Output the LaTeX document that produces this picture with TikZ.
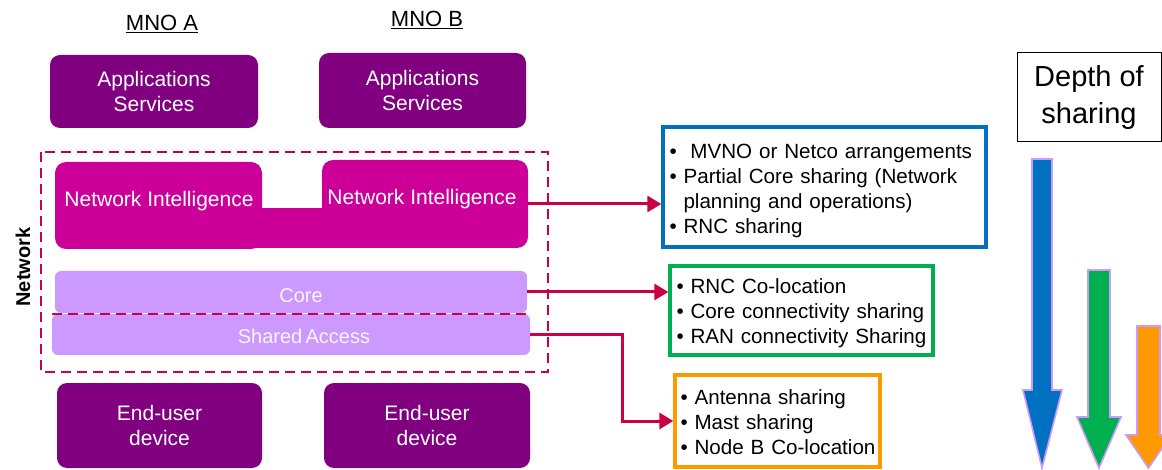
\documentclass[tikz,border=0pt]{standalone}
\usepackage{fontspec}
\setmainfont{Liberation Sans}
\usetikzlibrary{arrows.meta}
\definecolor{appcol}{RGB}{128,0,128}
\definecolor{nicol}{RGB}{204,0,153}
\definecolor{lav}{RGB}{204,153,255}
\definecolor{crim}{RGB}{204,0,68}
\definecolor{bluecol}{RGB}{0,112,192}
\definecolor{greencol}{RGB}{0,176,80}
\definecolor{orangecol}{RGB}{255,153,0}
\definecolor{lavtext}{RGB}{250,245,255}
\tikzset{
  purplebox/.style={fill=appcol, draw=none, rounded corners=10pt, text=white, align=center,
    font=\fontsize{21}{25}\selectfont, inner sep=0pt},
  nibox/.style={fill=nicol, draw=none, rounded corners=11pt, inner sep=0pt},
  nitext/.style={text=white, font=\fontsize{21}{25}\selectfont, inner sep=0pt},
  layerbar/.style={fill=lav, draw=none, rounded corners=6pt, inner sep=0pt},
  layertext/.style={text=lavtext, font=\fontsize{20}{24}\selectfont, inner sep=0pt},
  listbox/.style={draw, line width=3.4pt, fill=white, inner sep=0pt},
  listtext/.style={align=left, inner sep=0pt, font=\fontsize{20.6}{25}\selectfont},
  conn/.style={draw=crim, line width=3pt, -{Triangle[length=14pt,width=16pt]}},
  netdash/.style={crim, line width=2.8pt, dash pattern=on 10pt off 6pt},
  depthsym/.style={draw=lav, line width=1.6pt},
  mno/.style={font=\fontsize{22}{26}\selectfont, inner sep=0pt},
}
\begin{document}
\begin{tikzpicture}[x=1pt,y=-1pt]
\useasboundingbox (0,0) rectangle (1162,470);
% MNO labels
\node[mno] (mnoA) at (162,24) {\underline{MNO A}};
\node[mno] (mnoB) at (427,20) {\underline{MNO B}};
% Application boxes
\node[purplebox, minimum width=208pt, minimum height=73pt] (appA) at (154,91.5) {Applications\\Services};
\node[purplebox, minimum width=207pt, minimum height=75pt] (appB) at (422.5,90.5) {Applications\\Services};
% Network intelligence
\node[nibox, minimum width=207pt, minimum height=87pt] (niA) at (158.5,205.5) {};
\node[nibox, minimum width=206pt, minimum height=88pt] (niB) at (425,204) {};
\fill[nicol] (250,208) rectangle (335,248.5);
\node[nitext] (niAt) at (159,201) {Network Intelligence};
\node[nitext] (niBt) at (422,199) {Network Intelligence};
% Core and shared access
\node[layerbar, minimum width=472pt, minimum height=42pt] (core) at (291,292) {};
\node[layerbar, minimum width=478pt, minimum height=41pt] (shared) at (291,334.5) {};
\node[layertext] (coret) at (301,296) {Core};
\node[layertext] (sharedt) at (304,336) {Shared\,Access};
% dashed network boundary
\draw[netdash] (41,152) rectangle (548,372);
\draw[netdash] (52,314) -- (527,314);
\node[rotate=90, font=\bfseries\fontsize{20}{24}\selectfont, inner sep=0pt] (netlbl) at (23,267) {Network};
% End-user devices
\node[purplebox, minimum width=205pt, minimum height=85pt] (endA) at (159.5,425.5) {End-user\\device};
\node[purplebox, minimum width=206pt, minimum height=85pt] (endB) at (427,425.5) {End-user\\device};
% List boxes
\node[listbox, draw=bluecol, minimum width=323pt, minimum height=120pt] (blue) at (824.5,187) {};
\node[listtext, text width=340pt, anchor=west] (blueT) at ([xshift=8pt,yshift=-4pt]blue.west)
  {\textbullet\ \ MVNO or Netco arrangements\\
   \textbullet\ Partial Core sharing (Network\\
   \hspace*{14pt}planning and operations)\\
   \textbullet\ RNC sharing};
\node[listbox, draw=greencol, minimum width=263pt, minimum height=89pt] (green) at (801.5,310.5) {};
\node[listtext, text width=300pt, anchor=west] (greenT) at ([xshift=8pt,yshift=-3pt]green.west)
  {\textbullet\ RNC Co-location\\
   \textbullet\ Core connectivity sharing\\
   \textbullet\ RAN connectivity Sharing};
\node[listbox, draw=orangecol, minimum width=205pt, minimum height=92pt] (orange) at (777.5,421) {};
\node[listtext, text width=260pt, anchor=west] (orangeT) at ([xshift=7pt,yshift=-1pt]orange.west)
  {\textbullet\ Antenna sharing\\
   \textbullet\ Mast sharing\\
   \textbullet\ Node B Co-location};
% connectors
\draw[conn] (niB.east) -- (niB.east -| blue.west);
\draw[conn] (core.east) -- (core.east -| green.west);
\draw[conn] (shared.east) -- ++(92,0) |- (orange.west);
% Depth of sharing
\node[draw=black, line width=1pt, minimum width=144pt, minimum height=89pt, align=center,
  font=\fontsize{29}{37}\selectfont, inner sep=0pt] (depth) at (1089,97.5) {Depth of\\sharing};
\filldraw[depthsym, fill=bluecol] (1032,159) -- (1052,159) -- (1052,390) -- (1062,390) -- (1042,468)
  -- (1023,390) -- (1032,390) -- cycle;
\filldraw[depthsym, fill=greencol] (1088,270) -- (1110,270) -- (1110,417) -- (1121,417) -- (1099,468)
  -- (1077,417) -- (1088,417) -- cycle;
\filldraw[depthsym, fill=orangecol] (1137,326) -- (1160,326) -- (1160,435) -- (1171,435) -- (1148.5,468)
  -- (1126,435) -- (1137,435) -- cycle;
\end{tikzpicture}
\end{document}
